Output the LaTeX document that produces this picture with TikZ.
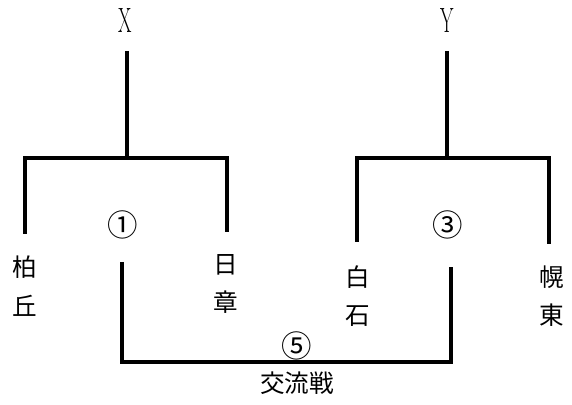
\documentclass[tikz,border=0pt]{standalone}
\usepackage{fontspec}
\newfontfamily\jpfont{Noto Sans CJK JP}
\usetikzlibrary{positioning}
\tikzset{
  bar/.style={line width=3.4pt},
  team/.style={font=\jpfont\fontsize{21}{33}\selectfont, align=center, inner sep=0pt},
  game/.style={font=\jpfont\fontsize{26}{30}\selectfont, inner sep=0pt},
  label/.style={font=\jpfont\fontsize{21}{25}\selectfont, inner sep=0pt},
  pool/.style={font=\fontsize{30}{34}\selectfont, inner sep=0pt}
}
\begin{document}
\begin{tikzpicture}[x=0.03cm,y=-0.03cm]
  \useasboundingbox (0,0) rectangle (572,405);
  % group labels
  \node[pool] (X) at (125,21) {\scalebox{0.55}[1]{X}};
  \node[pool] (Y) at (447,21) {\scalebox{0.55}[1]{Y}};
  % teams
  \node[team] (kashiwa) at (25,286) {柏\\丘};
  \node[team] (nissho)  at (226,284) {日\\章};
  \node[team] (shiroi)  at (358,296) {白\\石};
  \node[team] (horo)    at (552,296) {幌\\東};
  % games
  \node[game] (g1) at (123,225) {①};
  \node[game] (g3) at (448,225) {③};
  \node[game] (g5) at (297,346) {⑤};
  \node[label] (koryu) at (297,383) {交流戦};
  % bracket X
  \coordinate (Xs) at (127,51);
  \coordinate (Xj) at (127,158);
  \coordinate (Xl) at (25,234);
  \coordinate (Xr) at (227,232);
  \draw[bar] (Xs) -- (Xj);
  \draw[bar] (Xl) -- (Xl |- Xj) -- (Xr |- Xj) -- (Xr);
  % bracket Y
  \coordinate (Ys) at (447,51);
  \coordinate (Yj) at (447,158);
  \coordinate (Yl) at (357,242);
  \coordinate (Yr) at (549,244);
  \draw[bar] (Ys) -- (Yj);
  \draw[bar] (Yl) -- (Yl |- Yj) -- (Yr |- Yj) -- (Yr);
  % interleague
  \coordinate (Il) at (122,262);
  \coordinate (Ir) at (451,267);
  \coordinate (Ib) at (122,362);
  \draw[bar] (Il) -- (Ib) -- (Ir |- Ib) -- (Ir);
\end{tikzpicture}
\end{document}
